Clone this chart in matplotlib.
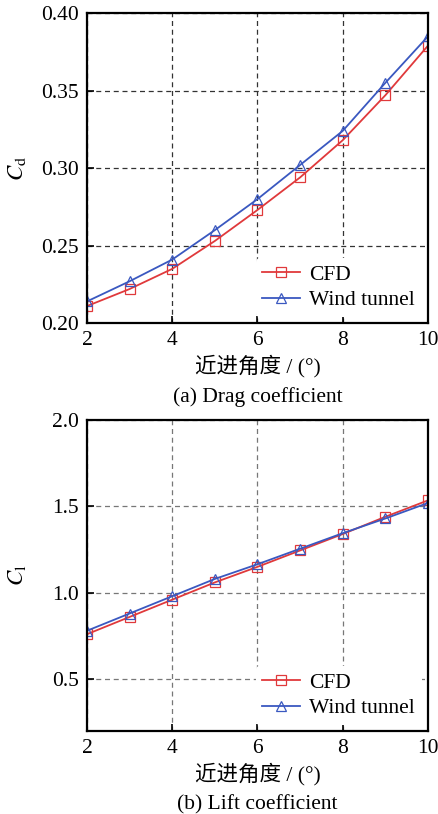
import numpy as np
import matplotlib
matplotlib.use('Agg')
import matplotlib.pyplot as plt

plt.rcParams['font.family'] = ['Liberation Serif', 'Noto Sans CJK SC']
plt.rcParams['mathtext.fontset'] = 'stix'

# approach angle (deg)
angle = [2, 3, 4, 5, 6, 7, 8, 9, 10]

# drag coefficient
cd_cfd = [0.211, 0.222, 0.235, 0.253, 0.273, 0.294, 0.318, 0.347, 0.379]
cd_wind = [0.214, 0.227, 0.241, 0.260, 0.280, 0.302, 0.324, 0.355, 0.385]

# lift coefficient
cl_cfd = [0.76, 0.86, 0.96, 1.06, 1.15, 1.245, 1.34, 1.44, 1.535]
cl_wind = [0.78, 0.88, 0.98, 1.08, 1.165, 1.255, 1.345, 1.43, 1.52]

red = '#e0393b'
blue = '#3a58c0'
fs = 15.5

fig = plt.figure(figsize=(4.39, 8.14), dpi=100)
ax1 = fig.add_axes([0.198, 0.603, 0.777, 0.381])
ax2 = fig.add_axes([0.198, 0.102, 0.777, 0.382])

def draw(ax, y1, y2, ylim, yticks, ylab, caption, gcol):
	ax.plot(angle, y1, color=red, lw=1.3, marker='s', ms=6.5, mfc='none', mec=red, mew=0.9, label='CFD')
	ax.plot(angle, y2, color=blue, lw=1.3, marker='^', ms=7, mfc='none', mec=blue, mew=0.9, label='Wind tunnel')
	ax.set_xlim(2, 10)
	ax.set_ylim(ylim)
	ax.set_xticks([2, 4, 6, 8, 10])
	ax.set_yticks(yticks)
	ax.grid(True, ls=(0, (4, 3)), color=gcol, lw=0.9)
	ax.set_axisbelow(True)
	ax.tick_params(direction='in', length=5, width=1.2, labelsize=fs, top=False, right=False, pad=6)
	for s in ax.spines.values():
		s.set_linewidth(1.6)
	ax.set_ylabel(ylab, fontsize=fs + 1)
	ax.yaxis.set_label_coords(-0.172, 0.5)
	ax.set_xlabel('近进角度 / (°)', fontsize=fs, labelpad=3)
	ax.text(0.5, -0.205, caption, transform=ax.transAxes, ha='center', va='top', fontsize=fs)
	leg = ax.legend(loc='lower right', fontsize=fs, frameon=True, handlelength=1.75, handletextpad=0.45,
		labelspacing=0.25, borderaxespad=0.3, borderpad=0.3)
	leg.get_frame().set_edgecolor('none')
	leg.get_frame().set_facecolor('white')
	leg.get_frame().set_alpha(1)

draw(ax1, cd_cfd, cd_wind, (0.20, 0.40), [0.20, 0.25, 0.30, 0.35, 0.40], r'$C_\mathrm{d}$', '(a) Drag coefficient', '#333333')
ax1.set_yticklabels(['0.20', '0.25', '0.30', '0.35', '0.40'])
draw(ax2, cl_cfd, cl_wind, (0.2, 2.0), [0.5, 1.0, 1.5, 2.0], r'$C_\mathrm{l}$', '(b) Lift coefficient', '#777777')
ax2.set_yticklabels(['0.5', '1.0', '1.5', '2.0'])

fig.savefig('out.png', dpi=100)
